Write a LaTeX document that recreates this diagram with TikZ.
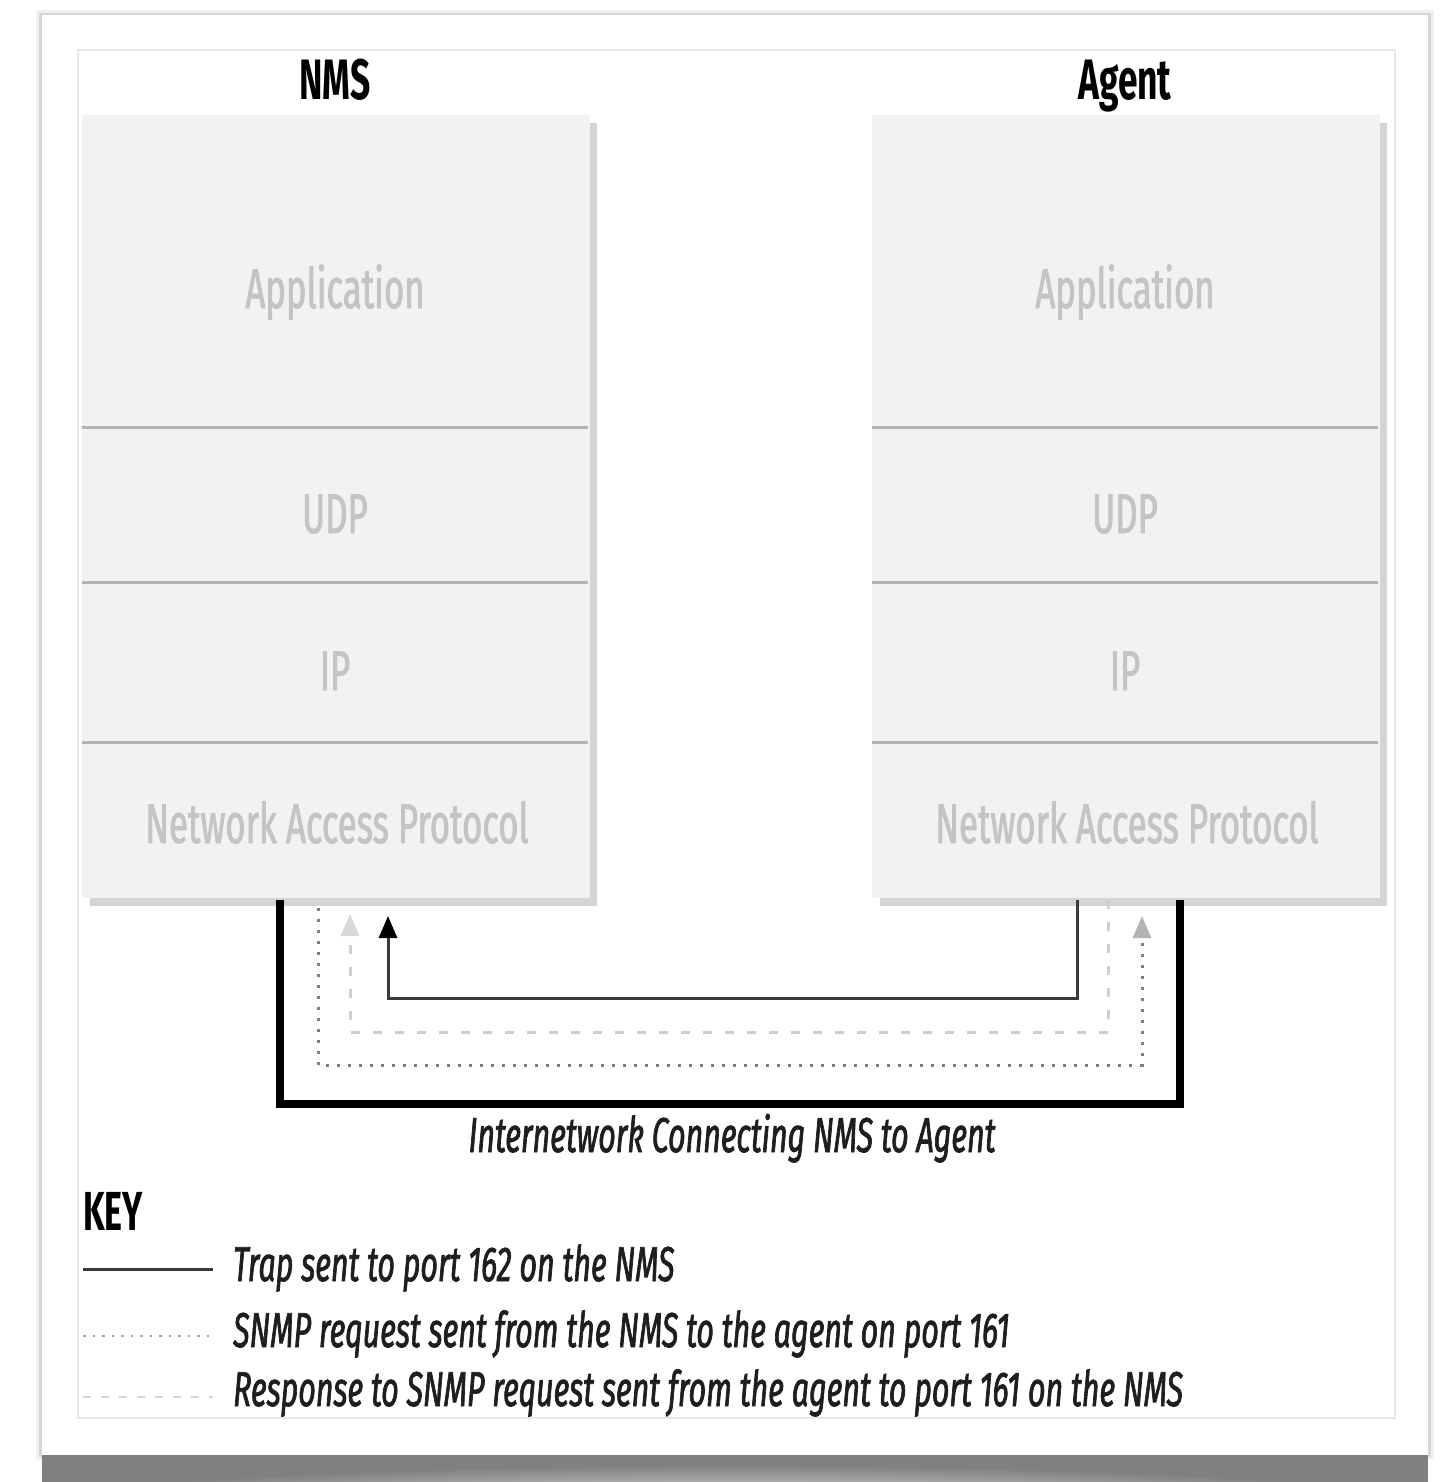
\documentclass[tikz,border=0pt]{standalone}
\usepackage{fontspec}
\setmainfont[FakeStretch=0.62]{Fira Sans}
\newfontfamily\medfont[FakeStretch=0.62,FakeBold=1.4]{Fira Sans}
\usetikzlibrary{arrows.meta}
\definecolor{boxfill}{HTML}{F2F2F2}
\definecolor{layertxt}{HTML}{C4C4C4}
\definecolor{divcol}{HTML}{B4B4B4}
\definecolor{shadowcol}{HTML}{D4D4D4}
\definecolor{trapcol}{HTML}{3A3A3A}
\definecolor{reqcol}{HTML}{7E7E7E}
\definecolor{reqtip}{HTML}{B4B4B4}
\definecolor{respcol}{HTML}{CECECE}
\definecolor{resptip}{HTML}{D8D8D8}
\definecolor{framecol}{HTML}{E8E8E8}
\definecolor{txtcol}{HTML}{1E1E1E}
\begin{document}
\begin{tikzpicture}[x=1pt,y=-1pt,line join=miter,
  stackbox/.style={fill=boxfill,draw=none,minimum width=508pt,minimum height=783pt,anchor=north west,inner sep=0pt},
  boxshadow/.style={fill=shadowcol,draw=none},
  layertext/.style={text=layertxt,font=\medfont\fontsize{56}{60}\selectfont,anchor=base,inner sep=0pt},
  titletext/.style={text=black,font=\bfseries\fontsize{57}{60}\selectfont,anchor=base,inner sep=0pt},
  captext/.style={text=txtcol,font=\medfont\itshape\fontsize{49}{52}\selectfont,anchor=base,inner sep=0pt},
  keytext/.style={text=txtcol,font=\medfont\itshape\fontsize{49}{52}\selectfont,anchor=base west,inner sep=0pt},
  divider/.style={draw=divcol,line width=3pt},
  internet/.style={draw=black,line width=8pt},
  trapline/.style={draw=trapcol,line width=3pt},
  reqline/.style={draw=reqcol,line width=3pt,dash pattern=on 3pt off 8pt},
  respline/.style={draw=respcol,line width=3pt,dash pattern=on 9pt off 13pt},
  traptip/.style={-{Triangle[length=22pt,width=18pt,color=black]}},
  reqtipst/.style={-{Triangle[length=22pt,width=18pt,color=reqtip]}},
  resptipst/.style={-{Triangle[length=22pt,width=18pt,color=resptip]}}
]
\useasboundingbox (0,0) rectangle (1440,1482);
% page and its shadow
\fill[white] (0,0) rectangle (1440,1482);
\fill[black!6] (36,10) rectangle (1434,1460);
\fill[black!16] (39,13) rectangle (1431,1457);
\begin{scope}
  \clip (42,1455) rectangle (1428,1482);
  \fill[black!50] (42,1455) rectangle (1428,1482);
  \shade[inner color=white,outer color=black!50] (735,1515) ellipse [x radius=760,y radius=50];
\end{scope}
\fill[white] (42,15) rectangle (1428,1455);
\draw[framecol,line width=1.5pt] (78,50) rectangle (1395,1418);

% NMS stack
\fill[boxshadow] (90,123) rectangle (597,906);
\node[stackbox] (nms) at (82,115) {};
\draw[divider] (82,427) -- (588,427);
\draw[divider] (82,582) -- (588,582);
\draw[divider] (82,742) -- (588,742);
\node[titletext] (nmslabel) at (335,100) {NMS};
\node[layertext] (nmsapp) at (335,308) {Application};
\node[layertext] (nmsudp) at (335,533) {UDP};
\node[layertext] (nmsip) at (335,690) {IP};
\node[layertext] (nmsnap) at (337,843) {Network Access Protocol};

% Agent stack
\fill[boxshadow] (880,123) rectangle (1387,906);
\node[stackbox] (agent) at (872,115) {};
\draw[divider] (872,427) -- (1378,427);
\draw[divider] (872,582) -- (1378,582);
\draw[divider] (872,742) -- (1378,742);
\node[titletext] (agentlabel) at (1125,100) {Agent};
\node[layertext] (agentapp) at (1125,308) {Application};
\node[layertext] (agentudp) at (1125,533) {UDP};
\node[layertext] (agentip) at (1125,690) {IP};
\node[layertext] (agentnap) at (1127,843) {Network Access Protocol};

% connector end points on the stacks
\coordinate (netA) at (280,900);
\coordinate (netB) at (1180,900);
\coordinate (trapS) at (1077,900);
\coordinate (trapE) at (388,916);
\coordinate (respS) at (1108,900);
\coordinate (respE) at (350,914);
\coordinate (reqS) at (318,908);
\coordinate (reqE) at (1142,916);

% internetwork
\draw[internet] (netA) -- ++(0,204) -| (netB);
% request (dotted)
\draw[reqline,reqtipst] (reqS) -- ++(0,157) -| (reqE);
% response (dashed)
\draw[respline,resptipst] (respS) -- ++(0,132) -| (respE);
% trap (solid)
\draw[trapline,traptip] (trapS) -- ++(0,98) -| (trapE);

\node[captext] (caption) at (732,1152) {Internetwork Connecting NMS to Agent};

% key
\node[titletext,anchor=base west,font=\bfseries\fontsize{55}{58}\selectfont] (key) at (83,1230) {KEY};
\draw[trapcol,line width=3pt] (83,1269) -- (213,1269);
\draw[reqcol!70,line width=2.5pt,dash pattern=on 2.5pt off 7pt] (83,1336) -- (213,1336);
\draw[respcol!85,line width=2.5pt,dash pattern=on 8pt off 10pt] (83,1397) -- (213,1397);
\node[keytext] (k1) at (233,1281) {Trap sent to port 162 on the NMS};
\node[keytext] (k2) at (233,1347) {SNMP request sent from the NMS to the agent on port 161};
\node[keytext] (k3) at (233,1406) {Response to SNMP request sent from the agent to port 161 on the NMS};
\end{tikzpicture}
\end{document}
